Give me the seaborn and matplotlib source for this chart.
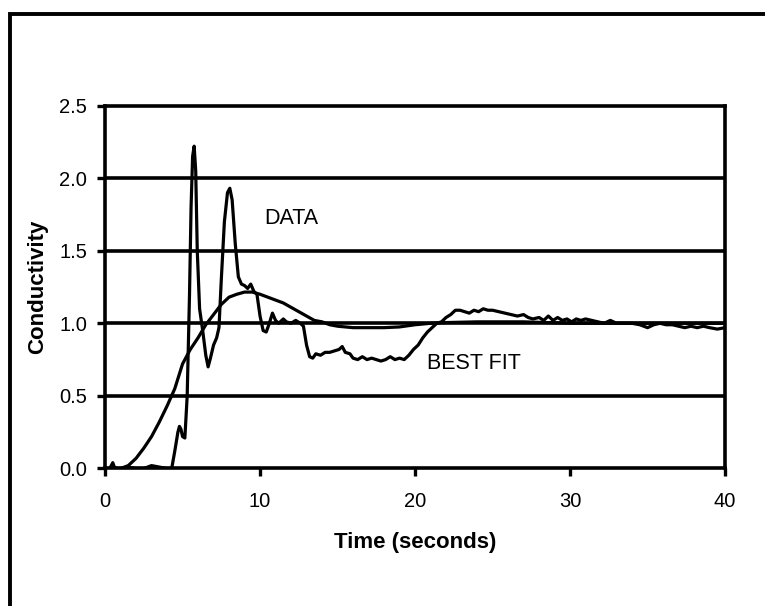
import matplotlib
matplotlib.use("Agg")
import matplotlib.pyplot as plt
import matplotlib.patches as mpatches
from matplotlib.ticker import FormatStrFormatter
import seaborn as sns
import pandas as pd

# Measured conductivity trace
time_data = [0.0, 0.3, 0.5, 0.6, 0.8, 1.2, 1.5, 2.0, 2.5, 3.0, 3.5, 4.0, 4.3, 4.5,
             4.7, 4.8, 4.9, 5.0, 5.15, 5.3, 5.45, 5.55, 5.65, 5.75, 5.85, 5.95,
             6.1, 6.3, 6.5, 6.65, 6.8, 7.0, 7.2, 7.35, 7.5, 7.7, 7.9, 8.05, 8.2,
             8.4, 8.6, 8.8, 9.0, 9.2, 9.4, 9.6, 9.8, 10.0, 10.2, 10.4, 10.6, 10.8,
             11.0, 11.2, 11.5, 11.7, 12.0, 12.3, 12.6, 12.8, 13.0, 13.2, 13.4,
             13.6, 13.9, 14.2, 14.5, 14.8, 15.1, 15.3, 15.5, 15.8, 16.0, 16.3,
             16.6, 16.9, 17.2, 17.5, 17.8, 18.1, 18.4, 18.7, 19.0, 19.3, 19.6,
             19.9, 20.2, 20.5, 20.8, 21.1, 21.4, 21.7, 22.0, 22.3, 22.6, 22.9,
             23.2, 23.5, 23.8, 24.1, 24.4, 24.7, 25.0, 25.4, 25.8, 26.2, 26.6,
             27.0, 27.3, 27.6, 28.0, 28.3, 28.6, 28.9, 29.2, 29.5, 29.8, 30.1,
             30.4, 30.7, 31.0, 31.4, 31.8, 32.2, 32.6, 33.0, 33.5, 34.0, 34.5,
             35.0, 35.4, 35.8, 36.2, 36.6, 37.0, 37.4, 37.8, 38.2, 38.6, 39.0,
             39.5, 40.0]
cond_data = [0.0, 0.0, 0.04, 0.01, 0.0, 0.0, 0.01, 0.0, 0.0, 0.02, 0.01, 0.0, 0.0, 0.12,
             0.25, 0.29, 0.27, 0.22, 0.21, 0.5, 1.2, 1.8, 2.15, 2.22, 2.05, 1.5,
             1.1, 0.95, 0.78, 0.70, 0.76, 0.85, 0.90, 0.97, 1.3, 1.7, 1.9, 1.93, 1.85,
             1.55, 1.32, 1.27, 1.26, 1.24, 1.27, 1.22, 1.20, 1.05, 0.95, 0.94, 1.0, 1.07,
             1.02, 1.0, 1.03, 1.01, 1.0, 1.02, 1.0, 0.98, 0.85, 0.77, 0.76,
             0.79, 0.78, 0.80, 0.80, 0.81, 0.82, 0.84, 0.80, 0.79, 0.76, 0.75,
             0.77, 0.75, 0.76, 0.75, 0.74, 0.75, 0.77, 0.75, 0.76, 0.75, 0.78,
             0.82, 0.85, 0.90, 0.94, 0.97, 1.0, 1.01, 1.04, 1.06, 1.09, 1.09,
             1.08, 1.07, 1.09, 1.08, 1.10, 1.09, 1.09, 1.08, 1.07, 1.06, 1.05,
             1.06, 1.04, 1.03, 1.04, 1.02, 1.05, 1.02, 1.04, 1.02, 1.03, 1.01,
             1.03, 1.02, 1.03, 1.02, 1.01, 1.0, 1.02, 1.0, 1.0, 1.0, 0.99,
             0.97, 0.99, 1.0, 0.99, 0.99, 0.98, 0.97, 0.98, 0.97, 0.98, 0.97,
             0.96, 0.97]

# Model curve
time_fit = [0.0, 0.5, 1.0, 1.5, 2.0, 2.5, 3.0, 3.5, 4.0, 4.5, 5.0, 5.5, 6.0, 6.5,
            7.0, 7.5, 8.0, 8.5, 9.0, 9.5, 10.0, 10.5, 11.0, 11.5, 12.0, 12.5,
            13.0, 13.5, 14.0, 14.5, 15.0, 16.0, 17.0, 18.0, 19.0, 20.0, 21.0,
            22.0, 24.0, 27.0, 30.0, 35.0, 40.0]
cond_fit = [0.0, 0.0, 0.0, 0.02, 0.07, 0.14, 0.22, 0.32, 0.43, 0.55, 0.72, 0.82, 0.9,
            0.99, 1.06, 1.13, 1.18, 1.2, 1.215, 1.215, 1.2, 1.18, 1.16, 1.14, 1.11,
            1.08, 1.05, 1.02, 1.01, 0.99, 0.98, 0.97, 0.97, 0.97, 0.975, 0.99, 1.0,
            1.005, 1.01, 1.01, 1.0, 1.0, 1.0]

x_ticks = [0, 10, 20, 30, 40]
y_ticks = [0.0, 0.5, 1.0, 1.5, 2.0, 2.5]

sns.set_style("white")
plt.rcParams["font.family"] = ["Liberation Sans", "DejaVu Sans"]
plt.rcParams["text.color"] = "black"
plt.rcParams["axes.labelcolor"] = "black"
plt.rcParams["xtick.color"] = "black"
plt.rcParams["ytick.color"] = "black"

fig = plt.figure(figsize=(7.65, 6.06), dpi=100)
ax = fig.add_axes([0.1373, 0.2269, 0.8105, 0.599])

df_data = pd.DataFrame({"t": time_data, "c": cond_data})
df_fit = pd.DataFrame({"t": time_fit, "c": cond_fit})

lw = 2.3
sns.lineplot(data=df_data, x="t", y="c", ax=ax, color="black", lw=lw, sort=False,
             solid_joinstyle="round", solid_capstyle="round", zorder=3)
sns.lineplot(data=df_fit, x="t", y="c", ax=ax, color="black", lw=lw, sort=False,
             solid_joinstyle="round", zorder=3)

ax.set_xlim(0, 40)
ax.set_ylim(0, 2.5)
ax.set_xticks(x_ticks)
ax.set_yticks(y_ticks)
ax.yaxis.set_major_formatter(FormatStrFormatter("%.1f"))

ax.grid(False)
for y in y_ticks[1:-1]:
    ax.axhline(y, color="black", lw=2.6, zorder=2)

for side in ["left", "right", "top", "bottom"]:
    ax.spines[side].set_visible(True)
    ax.spines[side].set_color("black")
    ax.spines[side].set_linewidth(2.6)

ax.tick_params(axis="x", direction="out", length=6, width=2.4, pad=11,
               labelsize=14.5, colors="black", bottom=True)
ax.tick_params(axis="y", direction="out", length=6, width=2.4, pad=7,
               labelsize=14.5, colors="black", left=True)

ax.set_xlabel("Time (seconds)", fontsize=16, fontweight="bold", labelpad=15)
ax.set_ylabel("Conductivity", fontsize=16, fontweight="bold", labelpad=8)

ax.text(10.3, 1.725, "DATA", fontsize=15.5, va="center", ha="left", color="black")
ax.text(20.8, 0.72, "BEST FIT", fontsize=15.5, va="center", ha="left", color="black")

# Frame around the whole drawing
frame = mpatches.Rectangle((10 / 765, -0.2), 1.2, 1.2 - 13.5 / 606,
                           transform=fig.transFigure, fill=False,
                           edgecolor="black", lw=2.8, clip_on=False)
fig.patches.append(frame)

fig.savefig("out.png", dpi=100, facecolor="white")
